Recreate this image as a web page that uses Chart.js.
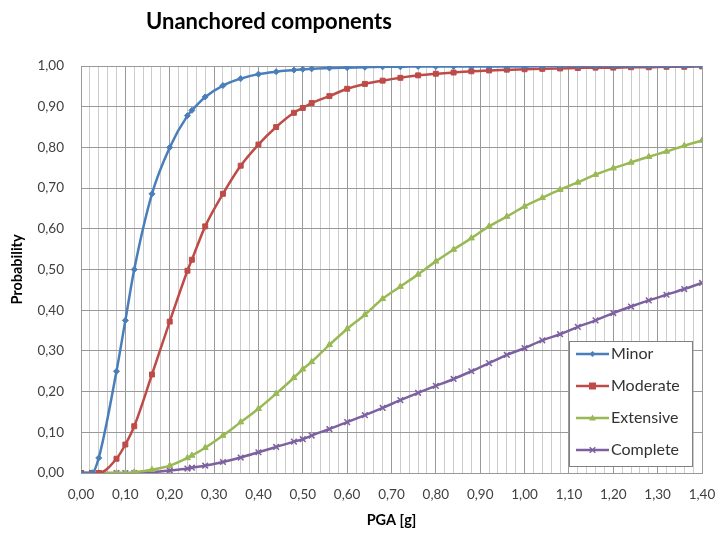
<!DOCTYPE html>
<html><head><meta charset="utf-8">
<script src="https://cdn.jsdelivr.net/npm/chart.js@4/dist/chart.umd.min.js"></script>
<style>html,body{margin:0;padding:0;background:#fff}#wrap{width:719px;height:536px;position:relative}</style>
</head><body><div id="wrap"><canvas id="c" width="719" height="536"></canvas></div>
<script>
const pga = [0, 0.025, 0.04, 0.08, 0.10, 0.12, 0.16, 0.20, 0.24, 0.25, 0.28, 0.32, 0.36, 0.40, 0.44, 0.48, 0.50, 0.52, 0.56, 0.60, 0.64, 0.68, 0.72, 0.76, 0.80, 0.84, 0.88, 0.92, 0.96, 1.00, 1.04, 1.08, 1.12, 1.16, 1.20, 1.24, 1.28, 1.32, 1.36, 1.40];
const minorP = [0, 0, 0.037, 0.25, 0.375, 0.50, 0.686, 0.80, 0.878, 0.891, 0.924, 0.952, 0.969, 0.980, 0.986, 0.990, 0.992, 0.993, 0.995, 0.996, 0.997, 0.998, 0.998, 0.999, 0.999, 0.999, 0.999, 0.999, 0.999, 0.999, 1.0, 1.0, 1.0, 1.0, 1.0, 1.0, 1.0, 1.0, 1.0, 1.0];
const moderateP = [0, 0, 0, 0.035, 0.07, 0.115, 0.242, 0.372, 0.497, 0.524, 0.606, 0.686, 0.755, 0.807, 0.850, 0.885, 0.897, 0.909, 0.926, 0.944, 0.956, 0.964, 0.971, 0.977, 0.981, 0.984, 0.987, 0.989, 0.991, 0.992, 0.993, 0.994, 0.995, 0.996, 0.996, 0.997, 0.997, 0.998, 0.998, 0.999];
const extensiveP = [0, 0, 0, 0, 0, 0.002, 0.008, 0.018, 0.037, 0.043, 0.062, 0.092, 0.125, 0.158, 0.195, 0.234, 0.255, 0.273, 0.315, 0.354, 0.389, 0.428, 0.458, 0.488, 0.520, 0.549, 0.577, 0.606, 0.630, 0.655, 0.676, 0.696, 0.714, 0.733, 0.749, 0.763, 0.777, 0.790, 0.804, 0.817];
const completeP = [0, 0, 0, 0, 0, 0, 0.002, 0.006, 0.011, 0.013, 0.018, 0.027, 0.038, 0.051, 0.064, 0.077, 0.083, 0.092, 0.108, 0.125, 0.142, 0.160, 0.179, 0.197, 0.214, 0.231, 0.250, 0.270, 0.290, 0.307, 0.326, 0.341, 0.359, 0.375, 0.393, 0.409, 0.424, 0.438, 0.452, 0.467];
const seriesNames = ['Minor', 'Moderate', 'Extensive', 'Complete'];
const seriesValues = [minorP, moderateP, extensiveP, completeP];
const seriesColors = ['#4A7EBB', '#BE4B48', '#98B954', '#7D60A0'];
const seriesMarkers = ['rectRot', 'rect', 'triangle', 'crossRot'];
const markerSizes = [3, 3.5, 3.5, 4];
const chartTitle = 'Unanchored components';
const xTitle = 'PGA [g]';
const yTitle = 'Probability';
const xMin = 0, xMax = 1.4, xMajorStep = 0.1, xMinorStep = 0.02;
const yMin = 0, yMax = 1, yStep = 0.1;

const FONT = 'Lato, "Open Sans", sans-serif';
const fmt = v => Number(v).toFixed(2).replace('.', ',');

const datasets = seriesNames.map((name, i) => ({
  label: name,
  data: pga.map((x, j) => ({x: x, y: seriesValues[i][j]})),
  borderColor: seriesColors[i],
  backgroundColor: seriesColors[i],
  pointBackgroundColor: seriesColors[i],
  pointBorderColor: seriesColors[i],
  pointStyle: seriesMarkers[i],
  pointRadius: markerSizes[i],
  pointBorderWidth: seriesMarkers[i] === 'crossRot' ? 1.5 : 1,
  borderWidth: 2.5,
  cubicInterpolationMode: 'monotone',
  fill: false
}));

function drawMarker(ctx, style, x, y, r, color) {
  ctx.save();
  ctx.fillStyle = color; ctx.strokeStyle = color; ctx.lineWidth = 1.5;
  ctx.beginPath();
  if (style === 'rectRot') { ctx.moveTo(x, y - r); ctx.lineTo(x + r, y); ctx.lineTo(x, y + r); ctx.lineTo(x - r, y); ctx.closePath(); ctx.fill(); }
  else if (style === 'rect') { ctx.rect(x - r, y - r, 2 * r, 2 * r); ctx.fill(); }
  else if (style === 'triangle') { ctx.moveTo(x, y - r); ctx.lineTo(x + r, y + r * 0.7); ctx.lineTo(x - r, y + r * 0.7); ctx.closePath(); ctx.fill(); }
  else { ctx.moveTo(x - r * 0.7, y - r * 0.7); ctx.lineTo(x + r * 0.7, y + r * 0.7); ctx.moveTo(x + r * 0.7, y - r * 0.7); ctx.lineTo(x - r * 0.7, y + r * 0.7); ctx.stroke(); }
  ctx.restore();
}

const customPlugin = {
  id: 'custom',
  afterDraw(chart) {
    const ctx = chart.ctx;
    ctx.save();
    ctx.fillStyle = '#000';
    ctx.font = 'bold 22px ' + FONT;
    ctx.textAlign = 'center';
    ctx.textBaseline = 'alphabetic';
    ctx.fillText(chartTitle, 269, 29);
    const bx = 569.5, by = 341.5, bw = 123, bh = 125;
    ctx.fillStyle = '#fff';
    ctx.fillRect(bx, by, bw, bh);
    ctx.strokeStyle = '#808080';
    ctx.lineWidth = 1;
    ctx.strokeRect(bx, by, bw, bh);
    ctx.font = '16px ' + FONT;
    ctx.textAlign = 'left';
    ctx.textBaseline = 'middle';
    chart.data.datasets.forEach((ds, i) => {
      const yy = 354 + i * 32;
      ctx.strokeStyle = ds.borderColor;
      ctx.lineWidth = 2.5;
      ctx.beginPath(); ctx.moveTo(576, yy); ctx.lineTo(609, yy); ctx.stroke();
      drawMarker(ctx, ds.pointStyle, 592.5, yy, ds.pointRadius, ds.borderColor);
      ctx.fillStyle = '#333';
      ctx.fillText(ds.label, 611, yy);
    });
    ctx.restore();
  }
};

const noSidePad = s => { s.paddingLeft = 0; s.paddingRight = 0; };

new Chart(document.getElementById('c'), {
  type: 'line',
  data: {datasets: datasets},
  options: {
    responsive: false,
    animation: false,
    devicePixelRatio: 1,
    layout: {padding: {top: 66, right: 17, left: 0, bottom: 0}},
    plugins: {legend: {display: false}, title: {display: false}, tooltip: {enabled: false}},
    scales: {
      xMinor: {
        type: 'linear', position: 'top', min: xMin, max: xMax,
        ticks: {display: false, stepSize: xMinorStep},
        grid: {color: '#cccccc', lineWidth: 1, drawTicks: false, z: -2},
        border: {display: false},
        afterFit: s => { s.height = 0; noSidePad(s); }
      },
      x: {
        type: 'linear', position: 'bottom', min: xMin, max: xMax,
        ticks: {stepSize: xMajorStep, autoSkip: false, maxRotation: 0, padding: 14, color: '#404040', font: {family: FONT, size: 13.5}, callback: v => fmt(v)},
        grid: {color: '#999999', lineWidth: 1, drawTicks: false, z: -1},
        border: {color: '#999999'},
        title: {display: true, text: xTitle, color: '#000', font: {family: FONT, size: 14.5, weight: 'bold'}, padding: {top: 0, bottom: 7}},
        afterFit: s => { s.height = 63; noSidePad(s); }
      },
      y: {
        type: 'linear', min: yMin, max: yMax,
        ticks: {stepSize: yStep, padding: 17, color: '#404040', font: {family: FONT, size: 13.5}, callback: v => fmt(v)},
        grid: {color: '#999999', lineWidth: 1, drawTicks: false, z: -1},
        border: {color: '#999999'},
        title: {display: true, text: yTitle, color: '#000', font: {family: FONT, size: 14.5, weight: 'bold'}, padding: {top: 9, bottom: 0}},
        afterFit: s => { s.width = 81; s.paddingTop = 0; s.paddingBottom = 0; }
      }
    }
  },
  plugins: [customPlugin]
});
</script></body></html>
